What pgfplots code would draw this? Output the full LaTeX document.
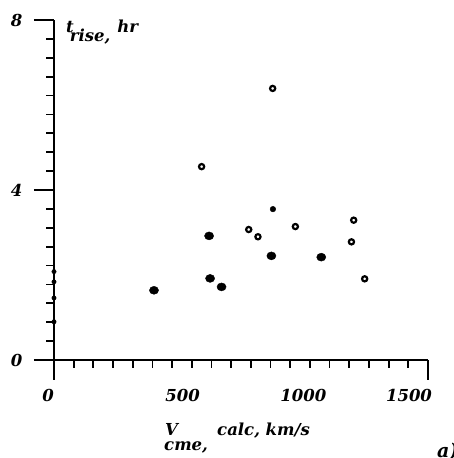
\documentclass[border=0pt]{standalone}
\usepackage{fontspec}
\setmainfont{DejaVu Serif}
\usepackage{graphicx}
\usepackage{pgfplots}
\pgfplotsset{compat=1.18}
\pgfplotsset{
  every tick/.append style={line width=1.8pt, black},
  every major tick/.append style={line width=1.8pt, black},
  every minor tick/.append style={line width=1.8pt, black},
}
\newcommand\lab{\fontsize{16.5}{18}\selectfont\bfseries\itshape}
\begin{document}
\begin{tikzpicture}[x=1pt,y=1pt]
\useasboundingbox (0,0) rectangle (454,458);
\begin{axis}[
  at={(54pt,98pt)}, anchor=south west,
  scale only axis, width=374pt, height=340pt,
  xmin=0, xmax=1500, ymin=0, ymax=8,
  axis x line*=bottom, axis y line*=left,
  axis line style={line width=1.8pt,-},
  clip=false,
  tick align=outside,
  major tick length=20pt, minor tick length=8pt,
  xtick style={line width=1.8pt}, ytick style={line width=1.8pt},
  xtick={0,1500},
  xticklabels={\hspace*{-6pt}0\hspace*{6pt}, \hspace*{-19pt}1500\hspace*{19pt}},
  minor x tick num=18,
  extra x ticks={500,1000},
  extra x tick labels={\hspace*{4pt}500\hspace*{-4pt},1000},
  extra x tick style={tick style={draw=none}},
  ytick={0,4,8}, minor y tick num=8,
  tick label style={font=\lab},
  xticklabel style={yshift=-6pt},
  yticklabel style={xshift=-8pt},
  /pgf/number format/assume math mode=true,
]
% open circles
\addplot[only marks, mark=*, mark size=2.6pt, line width=2.2pt, mark options={fill=white, draw=black}]
  coordinates {(877,6.39) (592,4.55) (781,3.07) (818,2.90) (968,3.14) (1202,3.29) (1193,2.78) (1246,1.91)};
% filled circles
\addplot[only marks, mark=*, mark size=4pt, mark options={fill=black, draw=black, xscale=1.15}]
  coordinates {(622,2.92) (626,1.92) (672,1.72) (401,1.64) (872,2.45) (1072,2.42)};
\addplot[only marks, mark=*, mark size=2.8pt, mark options={fill=black, draw=black}]
  coordinates {(878,3.55)};
% dots on the axis
\addplot[only marks, mark=*, mark size=2.2pt, mark options={fill=black, draw=black}]
  coordinates {(0,2.08) (0,1.84) (0,1.46) (0,0.90)};
\end{axis}
% y label
\node[anchor=base west, inner sep=0pt, font=\lab] at (66,425) {t\kern-4pt\raisebox{-9pt}{rise,}\kern7pt hr};
% x label
\node[anchor=base west, inner sep=0pt, font=\lab] at (165,22) {\makebox[52pt][l]{\rlap{V}\raisebox{-14pt}{\kern-1pt cme,}}calc, km/s};
% panel label
\node[anchor=base west, inner sep=0pt, font=\fontsize{19}{20}\selectfont\bfseries\itshape] at (437,1) {a)};
\end{tikzpicture}
\end{document}
